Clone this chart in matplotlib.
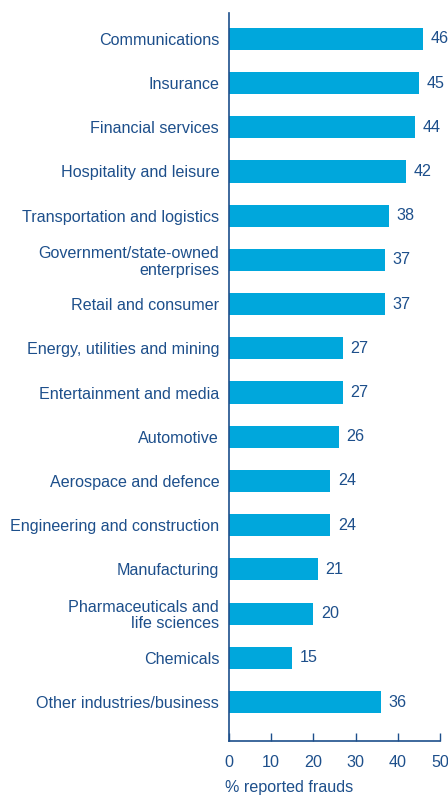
import matplotlib.pyplot as plt

# industries, top to bottom
industries = [
    "Communications", "Insurance", "Financial services", "Hospitality and leisure",
    "Transportation and logistics", "Government/state-owned\nenterprises",
    "Retail and consumer", "Energy, utilities and mining", "Entertainment and media",
    "Automotive", "Aerospace and defence", "Engineering and construction",
    "Manufacturing", "Pharmaceuticals and\nlife sciences", "Chemicals",
    "Other industries/business",
]
frauds = [46, 45, 44, 42, 38, 37, 37, 27, 27, 26, 24, 24, 21, 20, 15, 36]
ticks = [0, 10, 20, 30, 40, 50]

navy = "#1d4f8b"
bar_color = "#00a7dc"
fs = 11.6

plt.rcParams['font.family'] = ['Liberation Sans', 'DejaVu Sans']

fig = plt.figure(figsize=(4.48, 7.95), dpi=100)
ax = fig.add_axes([0.511, 0.068, 0.471, 0.916])

ypos = list(range(len(industries)))
ax.barh(ypos, frauds, height=0.5, color=bar_color)

# value labels at the end of each bar
for y, v in zip(ypos, frauds):
    ax.text(v + 1.8, y, str(v), va='center', ha='left', fontsize=fs, color=navy)

ax.set_yticks(ypos)
ax.set_yticklabels(industries, fontsize=fs, color=navy, linespacing=1.1)
ax.tick_params(axis='y', length=0, pad=7)

ax.set_xticks(ticks)
ax.set_xticklabels([str(t) for t in ticks], fontsize=fs, color=navy)
ax.tick_params(axis='x', direction='in', length=6, width=1, color=navy, pad=10)

ax.set_xlim(0, 50)
ax.set_ylim(len(industries) - 1 + 0.88, -0.59)

for side in ['top', 'right']:
    ax.spines[side].set_visible(False)
for side in ['left', 'bottom']:
    ax.spines[side].set_color(navy)
    ax.spines[side].set_linewidth(1.2)

ax.set_xlabel("% reported frauds", fontsize=fs, color=navy, loc='left')
ax.xaxis.set_label_coords(-0.019, -0.054)

fig.savefig("out.png", dpi=100)
